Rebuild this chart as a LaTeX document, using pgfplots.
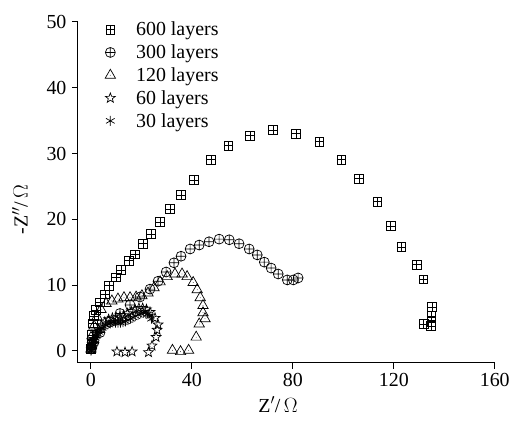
\documentclass[border=0pt]{standalone}
\usepackage{fontspec}
\setmainfont{Liberation Serif}
\usepackage{pgfplots}
\pgfplotsset{compat=1.18}
\usetikzlibrary{plotmarks}

% square with a cross inside
\pgfdeclareplotmark{sqplus}{%
  \pgfpathrectangle{\pgfpoint{-\pgfplotmarksize}{-\pgfplotmarksize}}{\pgfpoint{2\pgfplotmarksize}{2\pgfplotmarksize}}%
  \pgfpathmoveto{\pgfpoint{-\pgfplotmarksize}{0pt}}\pgfpathlineto{\pgfpoint{\pgfplotmarksize}{0pt}}%
  \pgfpathmoveto{\pgfpoint{0pt}{-\pgfplotmarksize}}\pgfpathlineto{\pgfpoint{0pt}{\pgfplotmarksize}}%
  \pgfusepathqstroke}
% triangle with a dot
\pgfdeclareplotmark{tridot}{%
  \pgfpathmoveto{\pgfpointpolar{90}{1.25\pgfplotmarksize}}%
  \pgfpathlineto{\pgfpointpolar{210}{1.25\pgfplotmarksize}}%
  \pgfpathlineto{\pgfpointpolar{330}{1.25\pgfplotmarksize}}%
  \pgfpathclose\pgfusepathqstroke
  \pgfpathcircle{\pgfpointorigin}{0.4pt}\pgfusepathqfill}
% open five-pointed star
\pgfdeclareplotmark{ostar}{%
  \pgfpathmoveto{\pgfpointpolar{90}{1.2\pgfplotmarksize}}%
  \pgfpathlineto{\pgfpointpolar{126}{0.5\pgfplotmarksize}}%
  \pgfpathlineto{\pgfpointpolar{162}{1.2\pgfplotmarksize}}%
  \pgfpathlineto{\pgfpointpolar{198}{0.5\pgfplotmarksize}}%
  \pgfpathlineto{\pgfpointpolar{234}{1.2\pgfplotmarksize}}%
  \pgfpathlineto{\pgfpointpolar{270}{0.5\pgfplotmarksize}}%
  \pgfpathlineto{\pgfpointpolar{306}{1.2\pgfplotmarksize}}%
  \pgfpathlineto{\pgfpointpolar{342}{0.5\pgfplotmarksize}}%
  \pgfpathlineto{\pgfpointpolar{18}{1.2\pgfplotmarksize}}%
  \pgfpathlineto{\pgfpointpolar{54}{0.5\pgfplotmarksize}}%
  \pgfpathclose\pgfusepathqstroke}

\begin{document}
\begin{tikzpicture}
\begin{axis}[
    scale only axis,
    width=417bp, height=341bp,
    xmin=-5.15, xmax=160, ymin=-1.8, ymax=50,
    axis x line*=bottom, axis y line*=left,
    axis line style={line width=1.1pt},
    xtick={0,40,80,120,160}, ytick={0,10,20,30,40,50},
    tick align=outside, major tick length=6bp,
    tick style={line width=1pt, black},
    minor tick num=0,
    tick label style={font=\fontsize{20}{22}\selectfont},
    xticklabel style={yshift=-1bp},
    yticklabel style={xshift=-2bp},
    label style={font=\fontsize{20}{22}\selectfont},
    /pgf/number format/assume math mode=true,
    xlabel={Z$'$/\,$\Omega$},
    ylabel={-Z$''$/\,$\Omega$},
    xlabel style={at={(rel axis cs:0.48,-0.123)}, anchor=center},
    ylabel style={at={(rel axis cs:-0.139,0.45)}, anchor=center},
    clip=false,
    legend style={draw=none, fill=none, at={(rel axis cs:0.053,1.005)}, anchor=north west,
        font=\fontsize{20}{22}\selectfont, row sep=4.5bp, inner sep=0pt,
        nodes={inner sep=1.5bp}},
    legend cell align=left,
    legend image code/.code={\draw[#1] plot coordinates {(0.35cm,0cm)}; \path (0cm,0cm) (1.2cm,0cm);},
    every axis plot/.append style={only marks, black, mark options={line width=0.7pt}},
]
\addplot[mark=sqplus, mark size=4.4pt] coordinates {
(0.1,0.3)(0.2,0.9)(0.4,2.4)(0.8,4.2)(1.3,5.3)(2.0,6.2)(3.6,7.4)(5.6,8.6)(7.1,9.9)(9.9,11.2)(11.9,12.3)(15.1,13.7)(17.5,14.7)(20.6,16.3)(23.8,17.8)(27.4,19.6)(31.3,21.6)(35.7,23.7)(40.9,26.0)(47.6,29.1)(54.4,31.2)(63.1,32.7)(72.2,33.6)(81.3,33.0)(90.5,31.8)(99.2,29.1)(106.3,26.2)(113.5,22.7)(118.7,19.0)(123.0,15.8)(129.0,13.1)(131.7,10.9)(135.2,6.7)(134.9,5.3)(134.9,4.4)(131.8,4.1)(134.7,3.8)
};
\addplot[mark=oplus, mark size=5pt] coordinates {
(0.3,0.4)(1.2,1.3)(3.6,2.8)(7.5,4.4)(11.5,5.7)(15.5,7.0)(19.4,8.2)(23.4,9.4)(26.6,10.6)(29.8,12.0)(32.9,13.4)(35.7,14.4)(39.3,15.5)(42.9,16.1)(46.8,16.6)(50.8,17.0)(54.8,16.9)(58.7,16.3)(62.7,15.5)(65.9,14.6)(68.7,13.5)(71.4,12.6)(74.2,11.7)(77.8,10.8)(80.2,10.8)(82.1,11.1)
};
\addplot[mark=tridot, mark size=4.8pt] coordinates {
(0.0,0.3)(0.4,2.3)(1.2,3.8)(2.4,5.2)(4.0,6.3)(6.0,7.2)(8.3,7.6)(10.7,7.9)(13.1,8.1)(15.5,8.1)(17.9,8.2)(20.2,8.4)(22.6,8.8)(25.0,9.6)(27.4,10.5)(30.2,11.3)(33.3,11.7)(36.1,11.7)(38.1,11.3)(40.5,10.4)(42.1,9.3)(43.3,8.1)(44.4,6.9)(44.4,5.8)(45.2,4.9)(42.9,4.1)(41.7,2.1)(38.7,0.1)(35.5,-0.1)(32.3,0.1)
};
\addplot[mark=ostar, mark size=4.3pt] coordinates {
(0.2,0.3)(0.6,1.0)(1.2,1.8)(2.0,2.6)(3.0,3.3)(4.2,3.9)(5.5,4.4)(7.0,4.8)(8.5,5.0)(10.0,5.1)(11.5,5.2)(13.0,5.4)(14.5,5.7)(16.0,6.0)(17.5,6.3)(19.0,6.5)(20.5,6.5)(22.0,6.3)(23.4,5.9)(25.4,5.0)(26.6,4.0)(26.2,3.2)(25.8,2.1)(24.2,0.8)(22.8,-0.2)(16.3,-0.1)(13.5,-0.2)(10.3,-0.1)
};
\addplot[mark=asterisk, mark size=5pt] coordinates {
(0.05,0.05)(0.1,0.2)(0.2,0.4)(0.35,0.65)(0.5,0.9)(0.7,1.15)(1.0,1.4)(1.3,1.7)(1.7,2.0)(2.1,2.3)(2.6,2.6)(3.1,2.9)(3.7,3.2)(4.4,3.5)(5.1,3.7)(5.9,3.9)(6.8,4.1)(7.7,4.2)(8.7,4.3)(9.7,4.3)(10.7,4.3)(11.7,4.3)(12.7,4.4)(13.7,4.5)(14.7,4.7)(15.7,4.9)(16.7,5.1)(17.7,5.3)(18.7,5.5)(19.7,5.7)(20.7,5.8)(21.7,5.8)(22.6,5.6)(23.4,5.3)(24.0,4.9)
};
\legend{600 layers, 300 layers, 120 layers, 60 layers, 30 layers}
\path (rel axis cs:-0.187,-0.188) rectangle (rel axis cs:1.043,1.0645);
\end{axis}
\end{tikzpicture}
\end{document}
